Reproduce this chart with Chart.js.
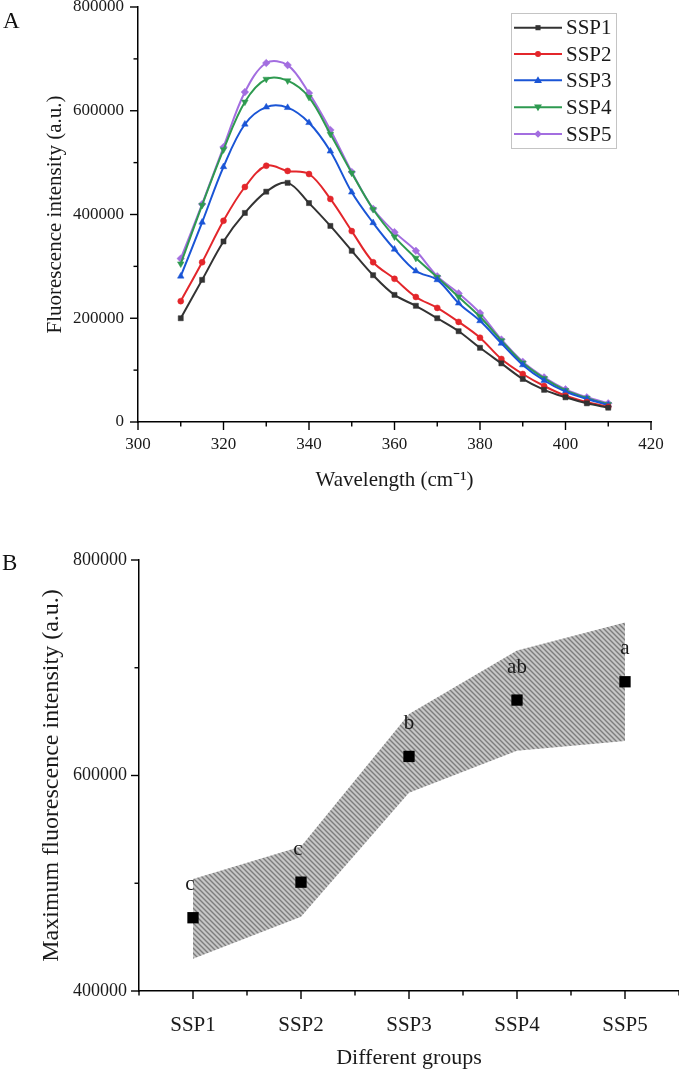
<!DOCTYPE html>
<html><head><meta charset="utf-8">
<script src="https://cdn.jsdelivr.net/npm/chart.js@4.4.1/dist/chart.umd.min.js"></script>
<style>
html,body{margin:0;padding:0;background:#fff;width:679px;height:1073px;overflow:hidden;position:relative;font-family:"Liberation Serif","Times New Roman",serif;}
#ca{position:absolute;left:0;top:-10px;}
#cb{position:absolute;left:0;top:540px;}
.lab{position:absolute;font-size:23px;line-height:1;color:#111;}
</style></head><body>
<canvas id="ca" width="679" height="510"></canvas>
<canvas id="cb" width="679" height="533"></canvas>
<div class="lab" style="left:3px;top:9px">A</div>
<div class="lab" style="left:2px;top:551px">B</div>
<script>
// ---------- Panel A data ----------
const wavelengths = [310,315,320,325,330,335,340,345,350,355,360,365,370,375,380,385,390,395,400,405,410];
const seriesNames = ['SSP1','SSP2','SSP3','SSP4','SSP5'];
const ssp1 = [200000,274000,348000,403000,444000,461000,422000,378000,330000,283000,245000,224000,200000,175000,143000,113000,83000,62000,47600,36000,27600];
const ssp2 = [233000,308000,388000,453000,494000,484000,478000,430000,368000,308000,276000,241000,220000,193000,162500,121500,92500,69400,50700,38500,29500];
const ssp3 = [281000,385000,492000,574000,607000,606000,577000,522000,443000,384000,333000,291000,274000,229000,195000,151700,110000,80000,58400,44300,32800];
const ssp4 = [305000,418000,525000,617000,661000,658000,626000,555000,480000,410000,357000,316000,279000,241000,203000,157000,114000,84000,61000,46000,34000];
const ssp5 = [315000,420000,530000,636000,692000,688000,634000,563000,482000,411000,366000,330000,281000,248000,210000,159000,116000,86000,63000,47600,36000];
const yTicksA = [0,200000,400000,600000,800000];
const xTicksA = [300,320,340,360,380,400,420];

// ---------- Panel B data ----------
const groups = ['SSP1','SSP2','SSP3','SSP4','SSP5'];
const maxMean = [468000,501000,617700,670000,687000];
const bandUpper = [504000,534000,657000,716000,742000];
const bandLower = [430000,469000,584000,623000,632000];
const sigLetters = ['c','c','b','ab','a'];
const yTicksB = [400000,600000,800000];

const FONT = '"Liberation Serif","Times New Roman",serif';
Chart.defaults.font.family = FONT;
Chart.defaults.color = '#1a1a1a';

const colors = ['#333333','#e3262b','#1a55d6','#2e9a50','#a36ee0'];
const styles = [
  {pointStyle:'rect', radius:3.6, rotation:0},
  {pointStyle:'circle', radius:3.0, rotation:0},
  {pointStyle:'triangle', radius:3.8, rotation:0},
  {pointStyle:'triangle', radius:3.8, rotation:180},
  {pointStyle:'rectRot', radius:3.8, rotation:0}
];
const allSeries = [ssp1,ssp2,ssp3,ssp4,ssp5];

// tick marks: major (labelled) long, minor short, drawn outward
const tickMarks = {
  id:'tickMarks',
  afterDraw(chart){
    const ctx = chart.ctx, xs = chart.scales.x, ys = chart.scales.y;
    ctx.save();
    ctx.strokeStyle = '#000'; ctx.lineWidth = 1.4;
    xs.ticks.forEach(t=>{
      const px = xs.getPixelForValue(t.value);
      const len = t.label !== '' ? 8 : 4.5;
      ctx.beginPath(); ctx.moveTo(px, xs.top); ctx.lineTo(px, xs.top+len); ctx.stroke();
    });
    ys.ticks.forEach(t=>{
      const py = ys.getPixelForValue(t.value);
      const len = t.label !== '' ? 8 : 4.5;
      ctx.beginPath(); ctx.moveTo(ys.right, py); ctx.lineTo(ys.right-len, py); ctx.stroke();
    });
    ctx.restore();
  }
};

function marker(ctx, style, r, rot, x, y){
  ctx.beginPath();
  if (style === 'rect'){ const s = r*Math.SQRT1_2; ctx.rect(x-s,y-s,2*s,2*s); }
  else if (style === 'circle'){ ctx.arc(x,y,r,0,Math.PI*2); }
  else if (style === 'rectRot'){ ctx.moveTo(x,y-r); ctx.lineTo(x+r,y); ctx.lineTo(x,y+r); ctx.lineTo(x-r,y); ctx.closePath(); }
  else if (style === 'triangle'){
    const a = rot*Math.PI/180;
    for (let k=0;k<3;k++){
      const ang = a - Math.PI/2 + k*2*Math.PI/3;
      const px = x + Math.cos(ang)*r*1.2, py = y + Math.sin(ang)*r*1.2 + (rot?-0.5:0.5);
      if(k===0) ctx.moveTo(px,py); else ctx.lineTo(px,py);
    }
    ctx.closePath();
  }
  ctx.fill();
}

const boxLegend = {
  id:'boxLegend',
  afterDraw(chart){
    const ctx = chart.ctx;
    const bx = 511, by = 23, bw = 105, bh = 135;
    const rows = [37.7,64,90.3,117.3,144];
    ctx.save();
    ctx.fillStyle = '#fff'; ctx.fillRect(bx,by,bw,bh);
    ctx.strokeStyle = '#c4c4c4'; ctx.lineWidth = 1; ctx.strokeRect(bx+0.5,by+0.5,bw,bh);
    chart.data.datasets.forEach((ds,i)=>{
      const cy = rows[i];
      ctx.strokeStyle = ds.borderColor; ctx.lineWidth = 2;
      ctx.beginPath(); ctx.moveTo(514,cy); ctx.lineTo(562,cy); ctx.stroke();
      ctx.fillStyle = ds.borderColor;
      marker(ctx, styles[i].pointStyle, styles[i].radius, styles[i].rotation, 538, cy);
      ctx.fillStyle = '#1a1a1a'; ctx.font = '21px '+FONT; ctx.textBaseline = 'middle'; ctx.textAlign='left';
      ctx.fillText(ds.label, 566, cy+1);
    });
    ctx.restore();
  }
};

const dsA = allSeries.map((vals,i)=>({
  label: seriesNames[i],
  data: wavelengths.map((w,j)=>({x:w, y:vals[j]})),
  borderColor: colors[i],
  backgroundColor: colors[i],
  pointBackgroundColor: colors[i],
  pointBorderColor: colors[i],
  pointBorderWidth: 0.5,
  pointStyle: styles[i].pointStyle,
  pointRadius: styles[i].radius,
  pointRotation: styles[i].rotation,
  borderWidth: 2,
  tension: 0.35,
  fill: false
}));

new Chart(document.getElementById('ca'), {
  type:'line',
  data:{datasets: dsA},
  options:{
    responsive:false, animation:false,
    layout:{autoPadding:false, padding:{top:17,right:28,left:0,bottom:0}},
    plugins:{legend:{display:false}, tooltip:{enabled:false}},
    scales:{
      x:{type:'linear', min:300, max:420,
        afterFit(s){ s.height = 78; },
        border:{display:true,color:'#000',width:1.5},
        grid:{drawOnChartArea:false, drawTicks:true, tickLength:8, tickColor:'rgba(0,0,0,0)'},
        ticks:{stepSize:10, autoSkip:false, maxRotation:0, padding:4, color:'#1a1a1a', font:{size:17},
          callback:v=> xTicksA.includes(v) ? String(v) : ''},
        title:{display:true, text:'Wavelength (cm\u207B\u00B9)', color:'#1a1a1a', font:{size:21}, padding:{top:0,bottom:7.4}}
      },
      y:{type:'linear', min:0, max:800000,
        afterFit(s){ s.width = 138; },
        border:{display:true,color:'#000',width:1.5},
        grid:{drawOnChartArea:false, drawTicks:true, tickLength:8, tickColor:'rgba(0,0,0,0)'},
        ticks:{stepSize:100000, autoSkip:false, padding:6, color:'#1a1a1a', font:{size:17},
          callback:v=> yTicksA.includes(v) ? String(v) : ''},
        title:{display:true, text:'Fluorescence intensity (a.u.)', color:'#1a1a1a', font:{size:21}, padding:{top:42.4,bottom:0}}
      }
    }
  },
  plugins:[tickMarks, boxLegend]
});

// ---------- Panel B ----------
const cbCanvas = document.getElementById('cb');
function makeHatch(ctx){
  const n = 5;
  const c = document.createElement('canvas'); c.width = n; c.height = n;
  const g = c.getContext('2d');
  g.fillStyle = '#c6c6c6'; g.fillRect(0,0,n,n);
  g.strokeStyle = '#7c7c7c'; g.lineWidth = 1.4;
  g.beginPath();
  g.moveTo(-1,-1); g.lineTo(n+1,n+1);
  g.moveTo(-1,n-1); g.lineTo(1,n+1);
  g.moveTo(n-1,-1); g.lineTo(n+1,1);
  g.stroke();
  return ctx.createPattern(c,'repeat');
}
const hatch = makeHatch(cbCanvas.getContext('2d'));

const letterPlugin = {
  id:'letters',
  afterDatasetsDraw(chart){
    const ctx = chart.ctx, xs = chart.scales.x, ys = chart.scales.y;
    ctx.save();
    ctx.fillStyle = '#1a1a1a'; ctx.font = '21px '+FONT; ctx.textAlign = 'center'; ctx.textBaseline = 'middle';
    sigLetters.forEach((l,i)=>{
      const px = xs.getPixelForValue(i+1) - (l==='c'?3:0);
      const py = ys.getPixelForValue(maxMean[i]) - 33;
      ctx.fillText(l, px, py);
    });
    ctx.restore();
  }
};

new Chart(cbCanvas, {
  type:'line',
  data:{datasets:[
    {label:'Mean', data: maxMean.map((v,i)=>({x:i+1,y:v})), showLine:false,
     pointStyle:'rect', pointRadius:8, pointBackgroundColor:'#000', pointBorderColor:'#000', pointBorderWidth:0},
    {label:'Upper', data: bandUpper.map((v,i)=>({x:i+1,y:v})), borderWidth:0, borderColor:'rgba(0,0,0,0)', pointRadius:0, fill:false, tension:0},
    {label:'Lower', data: bandLower.map((v,i)=>({x:i+1,y:v})), borderWidth:0, borderColor:'rgba(0,0,0,0)', pointRadius:0, fill:'-1', backgroundColor:hatch, tension:0}
  ]},
  options:{
    responsive:false, animation:false,
    layout:{autoPadding:false, padding:{top:20,right:0,left:0,bottom:0}},
    plugins:{legend:{display:false}, tooltip:{enabled:false}, filler:{propagate:false}},
    scales:{
      x:{type:'linear', min:0.5, max:5.5,
        afterFit(s){ s.height = 82; s.paddingRight = 0; s.paddingLeft = 0; },
        border:{display:true,color:'#000',width:1.5},
        grid:{drawOnChartArea:false, drawTicks:true, tickLength:8, tickColor:'rgba(0,0,0,0)'},
        ticks:{stepSize:0.5, autoSkip:false, maxRotation:0, padding:14, color:'#1a1a1a', font:{size:21},
          callback:v=> Number.isInteger(v) && v>=1 && v<=5 ? groups[v-1] : ''},
        title:{display:true, text:'Different groups', color:'#1a1a1a', font:{size:22}, padding:{top:0,bottom:1.8}}
      },
      y:{type:'linear', min:400000, max:800000,
        afterFit(s){ s.width = 139; },
        border:{display:true,color:'#000',width:1.5},
        grid:{drawOnChartArea:false, drawTicks:true, tickLength:8, tickColor:'rgba(0,0,0,0)'},
        ticks:{stepSize:100000, autoSkip:false, padding:4, color:'#1a1a1a', font:{size:18},
          callback:v=> yTicksB.includes(v) ? String(v) : ''},
        title:{display:true, text:'Maximum fluorescence intensity (a.u.)', color:'#1a1a1a', font:{size:24}, padding:{top:37.6,bottom:0}}
      }
    }
  },
  plugins:[tickMarks, letterPlugin]
});
</script>
</body></html>
